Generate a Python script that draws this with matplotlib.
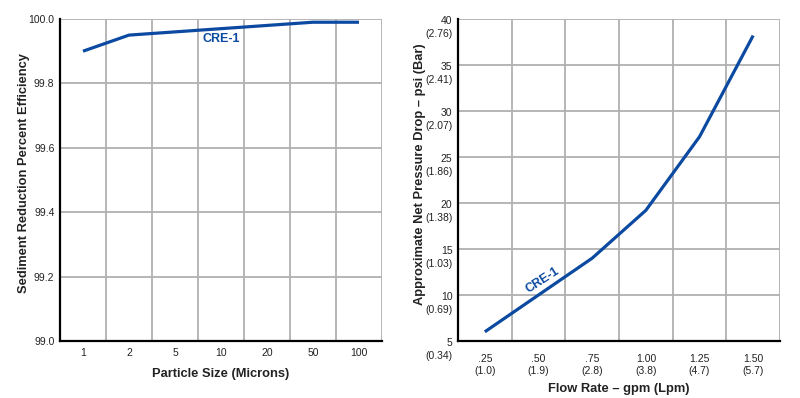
import matplotlib.pyplot as plt
import matplotlib.transforms as mtransforms

plt.rcParams['font.family'] = ['Liberation Sans', 'DejaVu Sans']

# =========================================================
# DATA
# =========================================================
particle_sizes = ["1", "2", "5", "10", "20", "50", "100"]
efficiency = [99.90, 99.95, 99.96, 99.97, 99.98, 99.99, 99.99]
eff_ticks = [99.0, 99.2, 99.4, 99.6, 99.8, 100.0]

flow_gpm = [".25", ".50", ".75", "1.00", "1.25", "1.50"]
flow_lpm = ["1.0", "1.9", "2.8", "3.8", "4.7", "5.7"]
pressure_psi = [6.0, 10.0, 14.0, 19.2, 27.2, 38.2]
psi_ticks = [5, 10, 15, 20, 25, 30, 35, 40]
bar_ticks = ["0.34", "0.69", "1.03", "1.38", "1.86", "2.07", "2.41", "2.76"]

LINE_BLUE = "#0b4aa0"
GRID_GRAY = "#b0b0b0"
TEXT = "#222222"
LABEL_SIZE = 9.3

fig = plt.figure(figsize=(8.0, 3.98), dpi=100)

def style_axes(ax, n):
    ax.set_xlim(-0.5, n - 0.5)
    # category separators as vertical gridlines
    for i in range(n):
        ax.axvline(i + 0.5, color=GRID_GRAY, lw=1.3, zorder=1)
    ax.tick_params(axis='both', length=0, colors=TEXT, labelsize=7.5)
    for side in ['top', 'right']:
        ax.spines[side].set_visible(False)
    for side in ['left', 'bottom']:
        ax.spines[side].set_color('black')
        ax.spines[side].set_linewidth(1.6)
        ax.spines[side].set_zorder(3)
    ax.grid(axis='y', color=GRID_GRAY, lw=1.3, zorder=1)
    ax.set_axisbelow(True)

# =========================================================
# LEFT: SEDIMENT REDUCTION
# =========================================================
ax1 = fig.add_axes([60 / 800, 57 / 398, 322 / 800, 322 / 398])
x1 = list(range(len(particle_sizes)))
ax1.plot(x1, efficiency, color=LINE_BLUE, lw=2.3, solid_capstyle='butt', zorder=4)
style_axes(ax1, len(particle_sizes))
ax1.set_ylim(99.0, 100.0)
ax1.set_yticks(eff_ticks)
ax1.set_yticklabels([f"{v:.1f}" for v in eff_ticks])
ax1.set_xticks(x1)
ax1.set_xticklabels(particle_sizes)
ax1.tick_params(axis='x', pad=5)
ax1.tick_params(axis='y', pad=4)
ax1.set_xlabel("Particle Size (Microns)", fontsize=LABEL_SIZE, fontweight='bold', color=TEXT, labelpad=7)
ax1.set_ylabel("Sediment Reduction Percent Efficiency", fontsize=LABEL_SIZE, fontweight='bold', color=TEXT)
ax1.yaxis.set_label_coords(-0.092, 0.523)
ax1.text(3.0, 99.938, "CRE-1", color=LINE_BLUE, fontsize=9, fontweight='bold',
         ha='center', va='center', zorder=5)

# =========================================================
# RIGHT: PRESSURE DROP
# =========================================================
ax2 = fig.add_axes([458 / 800, 57 / 398, 322 / 800, 322 / 398])
x2 = list(range(len(flow_gpm)))
ax2.plot(x2, pressure_psi, color=LINE_BLUE, lw=2.3, solid_capstyle='butt', zorder=4)
style_axes(ax2, len(flow_gpm))
ax2.set_ylim(5, 40)
ax2.set_yticks(psi_ticks)
ax2.set_yticklabels([f"{p}\n({b})" for p, b in zip(psi_ticks, bar_ticks)], linespacing=1.35)
ax2.set_xticks(x2)
ax2.set_xticklabels([f"{g}\n({l})" for g, l in zip(flow_gpm, flow_lpm)], linespacing=1.35)
ax2.tick_params(axis='x', pad=9)
ax2.tick_params(axis='y', pad=4)
# first line of each y label sits on its gridline
shift = mtransforms.ScaledTranslation(0, 3 / 100, fig.dpi_scale_trans)
for lab in ax2.get_yticklabels():
    lab.set_va('top')
    lab.set_transform(lab.get_transform() + shift)
ax2.set_xlabel("Flow Rate \u2013 gpm (Lpm)", fontsize=LABEL_SIZE, fontweight='bold', color=TEXT, labelpad=5)
ax2.set_ylabel("Approximate Net Pressure Drop \u2013 psi (Bar)", fontsize=LABEL_SIZE, fontweight='bold',
               color=TEXT)
ax2.yaxis.set_label_coords(-0.1, 0.519)
ax2.text(1.08, 11.6, "CRE-1", color=LINE_BLUE, fontsize=9, fontweight='bold',
         ha='center', va='center', rotation=33, zorder=5)

fig.savefig("out.png", dpi=100, facecolor='white')
